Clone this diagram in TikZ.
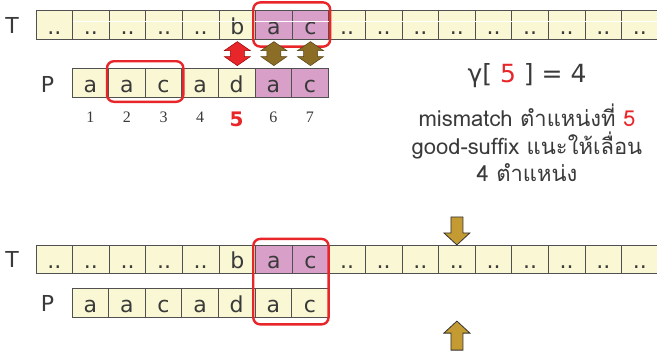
\documentclass[tikz,border=0pt]{standalone}
\usepackage{fontspec}
\setmainfont{DejaVu Sans}
\newfontfamily\thaifont[Script=Thai]{Loma}
\newfontfamily\serifnum{Liberation Serif}
\usetikzlibrary{calc}
\definecolor{cellY}{HTML}{FAF8D4}
\definecolor{cellP}{HTML}{D8A0C8}
\definecolor{cellbd}{HTML}{505050}
\definecolor{txt}{HTML}{3A3A3A}
\definecolor{redln}{HTML}{E8262A}
\definecolor{gold}{HTML}{C49A32}
\definecolor{olive}{HTML}{8C6D25}
\tikzset{
  cell/.style={draw=cellbd, fill=cellY, minimum width=36.6pt, minimum height=28.5pt,
    inner sep=0pt, text=txt, font=\fontsize{22}{22}\selectfont,
    text height=18.8pt, text depth=0pt, line width=0.7pt},
  pinkcell/.style={cell, fill=cellP},
  lbl/.style={text=txt, font=\fontsize{22}{22}\selectfont, inner sep=0pt},
  numlbl/.style={text=txt, font=\serifnum\fontsize{16}{16}\selectfont, inner sep=0pt},
  redbox/.style={draw=redln, line width=2.4pt, rounded corners=7pt},
  redarr/.style={fill=redln, draw=red!60!black, line width=0.5pt},
  olivearr/.style={fill=olive, draw=olive!60!black, line width=0.5pt},
  goldarr/.style={fill=gold, draw=black!80, line width=0.8pt},
  info/.style={text=txt, align=center, inner sep=0pt}
}
\begin{document}
\begin{tikzpicture}[x=1pt,y=-1pt]
\useasboundingbox (0,0) rectangle (657,354);
% top text row
\foreach \i in {1,...,17} {
  \pgfmathsetmacro{\cx}{36+36.6*(\i-0.5)}
  \node[cell] (t\i) at (\cx,25) {..};
}
\node[pinkcell] (t7) at ({36+36.6*6.5},25) {a};
\node[pinkcell] (t8) at ({36+36.6*7.5},25) {c};
\node[cell] (t6) at ({36+36.6*5.5},25) {b};
\draw[white, line width=1pt] ($(t2.north west)+(0.5,10.7)$) -- ($(t17.north east)+(-0.5,10.7)$);
\node[lbl] (tl) at (12,25) {T};
% top pattern row
\foreach \i/\c in {1/a,2/a,3/c,4/a,5/d} {
  \node[cell] (p\i) at ({72+36.6*(\i-0.5)},82.8) {\c};
}
\node[pinkcell] (p6) at ({72+36.6*5.5},82.8) {a};
\node[pinkcell] (p7) at ({72+36.6*6.5},82.8) {c};
\node[lbl] (pl) at (47.5,84) {P};
% numbers
\foreach \i in {1,2,3,4,6,7} {
  \node[numlbl] (n\i) at ($(p\i.south)+(0,19.5)$) {\i};
}
\node[text=redln, font=\bfseries\fontsize{20}{20}\selectfont, inner sep=0pt] (n5) at ($(p5.south)+(0,22)$) {5};
% red boxes
\draw[redbox] ($(t7.north west)+(-2,-8)$) rectangle ($(t8.south east)+(1,7)$);
\draw[redbox] ($(p2.north west)+(-1.3,-7)$) rectangle ($(p3.south east)+(1.2,4.4)$);
% double arrows
\draw[redarr] ($(t6.south)+(0,2)$) -- ++(13,9) -- ++(-6,0) -- ++(0,6) -- ++(6,0) -- ++(-13,9)
  -- ++(-13,-9) -- ++(6,0) -- ++(0,-6) -- ++(-6,0) -- cycle;
\foreach \a/\b in {t7/p6,t8/p7} {
  \draw[olivearr] ($(\a.south)+(0,2)$) -- ++(13,9) -- ++(-6,0) -- ++(0,6) -- ++(6,0) -- ++(-13,9)
    -- ++(-13,-9) -- ++(6,0) -- ++(0,-6) -- ++(-6,0) -- cycle;
}
% info text
\node[info, font=\fontsize{25}{25}\selectfont] (g) at (527,76) {γ[ \textcolor{redln}{5} ] = 4};
\node[info, font=\thaifont\fontsize{22}{27.5}\selectfont] (m) at (527,143)
  {mismatch ตำแหน่งที่ \textcolor{redln}{5}\\good-suffix แนะให้เลื่อน\\4 ตำแหน่ง};
% bottom text row
\foreach \i in {1,...,17} {
  \node[cell] (bt\i) at ({36+36.6*(\i-0.5)},259.5) {..};
}
\node[cell] (bt6) at ({36+36.6*5.5},259.5) {b};
\node[pinkcell] (bt7) at ({36+36.6*6.5},259.5) {a};
\node[pinkcell] (bt8) at ({36+36.6*7.5},259.5) {c};
\node[lbl] (btl) at (12,259) {T};
% bottom pattern row
\foreach \i/\c in {1/a,2/a,3/c,4/a,5/d,6/a,7/c} {
  \node[cell] (bp\i) at ({72+36.6*(\i-0.5)},302.8) {\c};
}
\node[lbl] (bpl) at (47.5,303) {P};
\draw[redbox] ($(bt7.north west)+(-2,-6)$) rectangle ($(bp7.south east)+(0,7)$);
% gold arrows
\draw[goldarr] (bt12.north) -- ++(13,-12) -- ++(-7,0) -- ++(0,-16) -- ++(-12,0) -- ++(0,16) -- ++(-7,0) -- cycle;
\coordinate (uptip) at ($(bt12.south)+(0,47)$);
\draw[goldarr] (uptip) -- ++(13,12) -- ++(-7,0) -- ++(0,17) -- ++(-12,0) -- ++(0,-17) -- ++(-7,0) -- cycle;
\end{tikzpicture}
\end{document}
